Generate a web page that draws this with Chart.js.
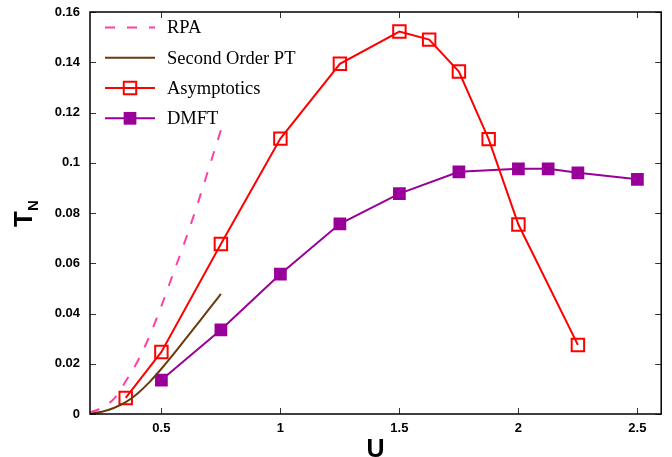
<!DOCTYPE html>
<html>
<head>
<meta charset="utf-8">
<script src="https://cdn.jsdelivr.net/npm/chart.js@4"></script>
<style>
  html, body { margin: 0; padding: 0; background: #fff; }
  canvas { display: block; }
</style>
</head>
<body>
<canvas id="tnChart" width="672" height="457"></canvas>
<script>
// values
const uRpa = [0.2, 0.25, 0.3, 0.35, 0.4, 0.45, 0.5, 0.55, 0.6, 0.65, 0.7, 0.75];
const tRpa = [0.0006, 0.0025, 0.006, 0.013, 0.021, 0.031, 0.043, 0.056, 0.069, 0.083, 0.098, 0.113];

const uPt = [0.2, 0.25, 0.3, 0.35, 0.4, 0.45, 0.5, 0.55, 0.6, 0.65, 0.7, 0.75];
const tPt = [0.0002, 0.0009, 0.0024, 0.0047, 0.0082, 0.0127, 0.018, 0.0237, 0.0297, 0.0357, 0.0417, 0.0478];

const uAsym = [0.35, 0.5, 0.75, 1.0, 1.25, 1.5, 1.625, 1.75, 1.875, 2.0, 2.25];
const tAsym = [0.0064, 0.0247, 0.0677, 0.1096, 0.1394, 0.1522, 0.149, 0.1363, 0.1094, 0.0754, 0.0275];

const uDmft = [0.5, 0.75, 1.0, 1.25, 1.5, 1.75, 2.0, 2.125, 2.25, 2.5];
const tDmft = [0.0135, 0.0335, 0.0557, 0.0757, 0.0877, 0.0964, 0.0976, 0.0976, 0.096, 0.0934];

const xTicks = [0.5, 1, 1.5, 2, 2.5];
const yTicks = [0, 0.02, 0.04, 0.06, 0.08, 0.1, 0.12, 0.14, 0.16];

function toPoints(xs, ys) {
  return xs.map((x, i) => ({ x: x, y: ys[i] }));
}

const tickFont = { family: "Liberation Sans", size: 13, weight: "bold" };

// gnuplot style frame, inward ticks, axis labels and key
const framePlugin = {
  id: "frame",
  afterDraw(chart) {
    const ctx = chart.ctx;
    const a = chart.chartArea;
    const xs = chart.scales.x;
    const ys = chart.scales.y;
    ctx.save();

    ctx.strokeStyle = "#333";
    ctx.lineWidth = 1;
    ctx.beginPath();
    xTicks.forEach((v) => {
      const px = Math.round(xs.getPixelForValue(v)) + 0.5;
      ctx.moveTo(px, a.bottom);
      ctx.lineTo(px, a.bottom - 6);
      ctx.moveTo(px, a.top);
      ctx.lineTo(px, a.top + 6);
    });
    yTicks.forEach((v) => {
      const py = Math.round(ys.getPixelForValue(v)) + 0.5;
      ctx.moveTo(a.left, py);
      ctx.lineTo(a.left + 6, py);
      ctx.moveTo(a.right, py);
      ctx.lineTo(a.right - 6, py);
    });
    ctx.stroke();

    ctx.strokeStyle = "#000";
    ctx.lineWidth = 1.5;
    ctx.strokeRect(a.left, a.top, a.right - a.left, a.bottom - a.top);

    // axis labels
    ctx.fillStyle = "#000";
    ctx.font = "bold 25px 'Liberation Sans'";
    ctx.textAlign = "center";
    ctx.textBaseline = "alphabetic";
    ctx.fillText("U", (a.left + a.right) / 2, 457);

    ctx.save();
    ctx.translate(32, 227);
    ctx.rotate(-Math.PI / 2);
    ctx.textAlign = "left";
    ctx.font = "bold 26px 'Liberation Sans'";
    ctx.fillText("T", 0, 0);
    const wT = ctx.measureText("T").width;
    ctx.font = "bold 15px 'Liberation Sans'";
    ctx.fillText("N", wT, 6);
    ctx.restore();

    // key
    const rowY = [27.5, 57.8, 88, 118.3];
    ctx.font = "18.5px 'Liberation Serif'";
    ctx.textAlign = "left";
    ctx.textBaseline = "middle";
    chart.data.datasets.forEach((ds, i) => {
      const y = rowY[i];
      ctx.strokeStyle = ds.borderColor;
      ctx.lineWidth = ds.borderWidth;
      ctx.setLineDash(ds.borderDash || []);
      ctx.beginPath();
      ctx.moveTo(105, y);
      ctx.lineTo(155, y);
      ctx.stroke();
      ctx.setLineDash([]);
      if (ds.pointRadius > 0) {
        const s = Math.SQRT1_2 * ds.pointRadius;
        ctx.beginPath();
        ctx.rect(130 - s, y - s, 2 * s, 2 * s);
        ctx.fillStyle = ds.pointBackgroundColor;
        ctx.fill();
        if (ds.pointBorderWidth > 0) {
          ctx.lineWidth = ds.pointBorderWidth;
          ctx.strokeStyle = ds.pointBorderColor;
          ctx.stroke();
        }
      }
      ctx.fillStyle = "#000";
      ctx.fillText(ds.label, 167, y + 1);
    });

    ctx.restore();
  },
};

new Chart(document.getElementById("tnChart"), {
  type: "scatter",
  data: {
    datasets: [
      {
        label: "RPA",
        data: toPoints(uRpa, tRpa),
        showLine: true,
        borderColor: "#ff3fa4",
        borderWidth: 2,
        borderDash: [10, 12],
        pointRadius: 0,
        cubicInterpolationMode: "monotone",
      },
      {
        label: "Second Order PT",
        data: toPoints(uPt, tPt),
        showLine: true,
        borderColor: "#6b3a0c",
        borderWidth: 2,
        pointRadius: 0,
        cubicInterpolationMode: "monotone",
      },
      {
        label: "Asymptotics",
        data: toPoints(uAsym, tAsym),
        showLine: true,
        borderColor: "#ff0000",
        borderWidth: 2,
        pointStyle: "rect",
        pointRadius: 8.8,
        pointBorderWidth: 2,
        pointBorderColor: "#ff0000",
        pointBackgroundColor: "rgba(0,0,0,0)",
      },
      {
        label: "DMFT",
        data: toPoints(uDmft, tDmft),
        showLine: true,
        borderColor: "#990099",
        borderWidth: 2,
        pointStyle: "rect",
        pointRadius: 9,
        pointBorderWidth: 0,
        pointBorderColor: "#990099",
        pointBackgroundColor: "#990099",
      },
    ],
  },
  options: {
    responsive: false,
    animation: false,
    layout: { padding: { left: 0, right: 9, top: 12, bottom: 0 } },
    plugins: {
      legend: { display: false },
      tooltip: { enabled: false },
    },
    scales: {
      x: {
        type: "linear",
        min: 0.2,
        max: 2.6,
        grid: { display: false, drawTicks: false },
        border: { display: false },
        afterFit(scale) {
          scale.height = 43;
          scale.paddingLeft = 0;
          scale.paddingRight = 0;
        },
        afterBuildTicks(scale) {
          scale.ticks = xTicks.map((v) => ({ value: v }));
        },
        ticks: {
          padding: 7,
          color: "#000",
          font: tickFont,
          maxRotation: 0,
          callback: (v) => String(v),
        },
      },
      y: {
        type: "linear",
        min: 0,
        max: 0.16,
        grid: { display: false, drawTicks: false },
        border: { display: false },
        afterFit(scale) {
          scale.width = 90;
          scale.paddingTop = 0;
          scale.paddingBottom = 0;
        },
        afterBuildTicks(scale) {
          scale.ticks = yTicks.map((v) => ({ value: v }));
        },
        ticks: {
          padding: 10,
          color: "#000",
          font: tickFont,
          callback: (v) => String(Math.round(v * 100) / 100),
        },
      },
    },
  },
  plugins: [framePlugin],
});
</script>
</body>
</html>
